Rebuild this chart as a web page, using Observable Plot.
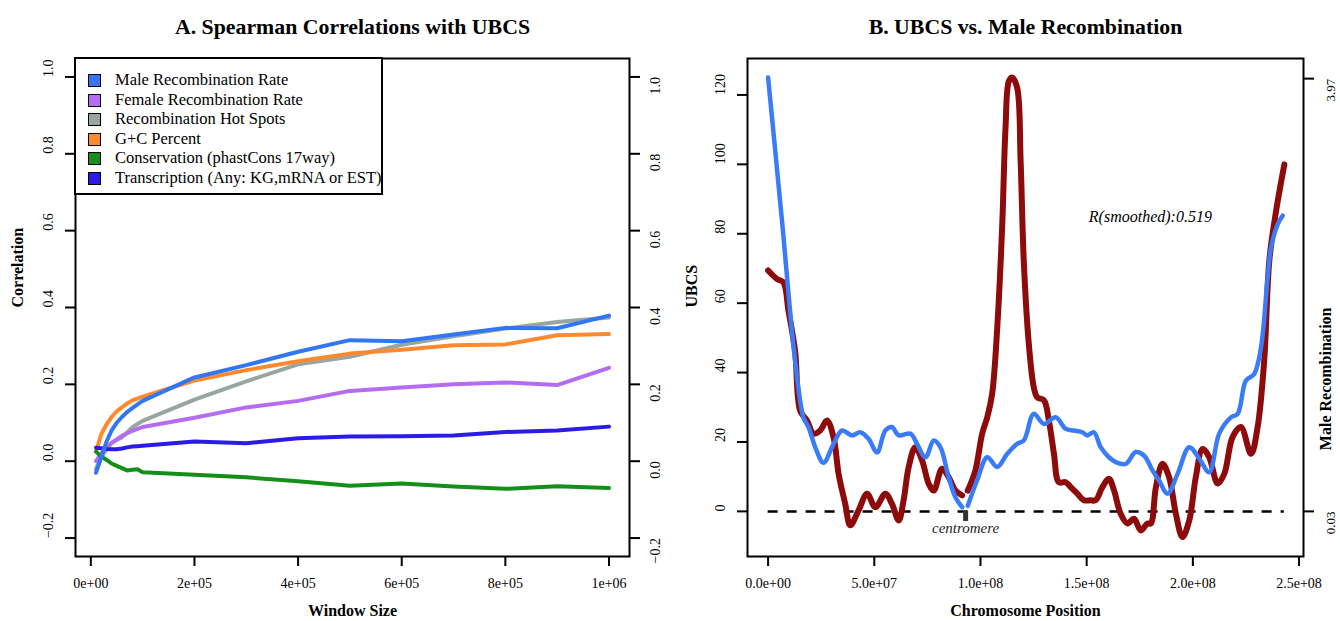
<!DOCTYPE html>
<html>
<head>
<meta charset="utf-8">
<script src="https://cdn.jsdelivr.net/npm/d3@7"></script>
<script src="https://cdn.jsdelivr.net/npm/@observablehq/plot@0.6"></script>
<style>
  body { margin: 0; background: white; }
  #wrap { position: relative; width: 1340px; height: 621px; overflow: hidden; font-family: "Liberation Serif", serif; }
  .panel { position: absolute; top: 0; }
  #legend { position: absolute; left: 75px; top: 58px; width: 305px; height: 134px; border: 2px solid black; background: white; box-sizing: content-box; margin-left: -1px; margin-top: -1px; }
  .lrow { position: absolute; left: 0; height: 20px; font-size: 16.5px; line-height: 20px; white-space: nowrap; }
  .sw { position: absolute; left: 12px; top: 4px; width: 11px; height: 11px; border: 1px solid black; }
  .lt { position: absolute; left: 39px; top: 0; }
</style>
</head>
<body>
<div id="wrap"></div>
<script>
// ---------- Panel A data ----------
const windowSize = [1e4, 2e4, 3e4, 4e4, 5e4, 6e4, 7e4, 8e4, 9e4, 1e5, 2e5, 3e5, 4e5, 5e5, 6e5, 7e5, 8e5, 9e5, 1e6];
const maleRate   = [-0.030, 0.010, 0.050, 0.080, 0.100, 0.115, 0.128, 0.138, 0.148, 0.157, 0.218, 0.250, 0.285, 0.315, 0.312, 0.330, 0.347, 0.346, 0.379];
const femaleRate = [0.000, 0.020, 0.035, 0.047, 0.057, 0.066, 0.073, 0.079, 0.084, 0.089, 0.113, 0.140, 0.157, 0.183, 0.192, 0.200, 0.205, 0.198, 0.243];
const hotSpots   = [-0.020, 0.010, 0.030, 0.048, 0.055, 0.062, 0.075, 0.088, 0.097, 0.105, 0.160, 0.208, 0.252, 0.272, 0.303, 0.325, 0.345, 0.362, 0.374];
const gcPercent  = [0.025, 0.070, 0.095, 0.115, 0.130, 0.140, 0.150, 0.158, 0.163, 0.168, 0.210, 0.237, 0.260, 0.280, 0.290, 0.302, 0.304, 0.328, 0.331];
const conservation = [0.025, 0.012, 0.004, -0.006, -0.012, -0.018, -0.024, -0.022, -0.021, -0.029, -0.035, -0.042, -0.052, -0.064, -0.058, -0.066, -0.072, -0.065, -0.070];
const transcription = [0.035, 0.034, 0.032, 0.031, 0.031, 0.033, 0.036, 0.038, 0.039, 0.040, 0.051, 0.047, 0.060, 0.064, 0.065, 0.067, 0.076, 0.080, 0.090];

const seriesNames  = ["Male Recombination Rate", "Female Recombination Rate", "Recombination Hot Spots", "G+C Percent", "Conservation (phastCons 17way)", "Transcription (Any: KG,mRNA or EST)"];
const seriesColors = ["#3276f5", "#b46cf2", "#98a6a2", "#ff8a2e", "#14901a", "#2b1be6"];
const seriesValues = [maleRate, femaleRate, hotSpots, gcPercent, conservation, transcription];
const drawOrder = [2, 3, 1, 4, 5, 0];

const xTicksA = [0, 2e5, 4e5, 6e5, 8e5, 1e6];
const xTickLabelsA = ["0e+00", "2e+05", "4e+05", "6e+05", "8e+05", "1e+06"];
const yTicksA = [-0.2, 0, 0.2, 0.4, 0.6, 0.8, 1.0];
const yTickLabelsA = ["\u22120.2", "0.0", "0.2", "0.4", "0.6", "0.8", "1.0"];

// ---------- Panel B data (positions in Mb) ----------
const ubcsPos = [0, 6.5, 12.7, 16.7, 19.0, 22.5, 26.1, 30.5, 34.8, 39.5, 43.4, 47.3, 51.3, 55.2, 58.3, 61.5, 67.0, 70.1, 74.1, 78.0, 81.1, 85.0, 88.2, 91.4, 92.7, 94.0, 98.4, 103.2, 107.9, 112.6, 117.3, 120.4, 125.1, 129.9, 135.4, 140.1, 144.0, 148.0, 150.3, 153.4, 156.6, 160.5, 163.7, 168.4, 173.1, 177.0, 181.0, 184.1, 188.1, 192.8, 198.3, 203.0, 207.7, 212.4, 217.9, 221.1, 225.0, 228.9, 232.1, 235.2, 236.8, 240.0, 242.3];
const ubcsVal = [125, 84, 43.5, 27, 24.3, 18, 14, 19, 23.3, 21.9, 22.8, 20.9, 17, 23.3, 24.3, 21.9, 22.4, 19.5, 15.6, 20.4, 18.5, 9.9, 4.1, 1.2, NaN, 1.6, 8.9, 15.6, 12.8, 16.6, 19.5, 20.4, 28.1, 25.2, 27.1, 23.8, 23.3, 22.8, 21.9, 22.8, 18.5, 15.6, 14.2, 13.7, 17.1, 16.1, 11.8, 8.9, 5.1, 10.8, 18.5, 15.2, 11.3, 22.4, 27.1, 28.1, 37.7, 39.6, 47.3, 67.4, 76, 82.8, 85.2];

const recPos = [0, 4.1, 7.2, 9.6, 12.7, 15.1, 18.3, 21.4, 24.5, 27.7, 30.8, 33.2, 36.3, 38.7, 42.6, 46.6, 50.5, 55.2, 58.3, 61.5, 63.8, 66.2, 69.3, 72.5, 75.6, 78.0, 81.9, 85.0, 88.2, 91.4, 92.7, 94.0, 97.6, 100.8, 103.2, 105.5, 107.9, 110.2, 111.8, 113.4, 115.0, 117.3, 118.9, 120.4, 122.8, 125.1, 126.7, 129.9, 132.2, 134.6, 136.9, 140.1, 142.5, 145.6, 148.7, 151.9, 154.2, 157.4, 160.5, 162.9, 166.0, 169.2, 172.3, 175.5, 178.6, 180.2, 182.6, 185.7, 188.8, 192.0, 195.1, 198.3, 201.4, 204.6, 207.7, 211.7, 214.8, 218.7, 222.6, 227.4, 230.5, 233.6, 236.0, 239.2, 243.1];
const recVal = [69.4, 67, 66, 57.8, 46.3, 29, 26.2, 22.4, 23.3, 26.2, 21.4, 10.8, 2.2, -4, 0.3, 5.1, 1.2, 5.1, 2.2, -2.6, 3.2, 12.8, 18.5, 14.7, 8, 6, 12.3, 9.9, 6, 4.6, NaN, 6, 11.8, 22.4, 27.1, 33.9, 53, 81.8, 110.6, 124, 125, 122, 101, 72, 48, 35.8, 32.9, 32, 26.2, 16.6, 8.4, 8.4, 7, 5.1, 3.2, 3.2, 3.2, 7, 9.4, 6, -0.7, -3.5, -2.1, -5.5, -3.5, -3.5, 7, 13.7, 9.9, -0.7, -7.4, -2.6, 9.9, 18, 15.6, 8, 10.8, 21.4, 24.3, 16.6, 24.3, 43.5, 72.2, 86.6, 100];

const centromerePos = 93;
const correlationText = "R(smoothed):0.519";
const correlationAt = [180, 85];

const xTicksB = [0, 50, 100, 150, 200, 250];
const xTickLabelsB = ["0.0e+00", "5.0e+07", "1.0e+08", "1.5e+08", "2.0e+08", "2.5e+08"];
const yTicksB = [0, 20, 40, 60, 80, 100, 120];
const yTickLabelsB = ["0", "20", "40", "60", "80", "100", "120"];
const recTicks = [0, 124.7];
const recTickLabels = ["0.03", "3.97"];

const FONT = "Liberation Serif";
const tickFS = 14;

// ---------- Panel A ----------
const rowsA = [];
drawOrder.forEach(s => windowSize.forEach((w, i) => rowsA.push({w, v: seriesValues[s][i], s})));

const plotA = Plot.plot({
  width: 680, height: 621,
  marginLeft: 75, marginRight: 51, marginTop: 58, marginBottom: 65,
  x: {domain: [-29600, 1039600]},
  y: {domain: [-0.248, 1.048]},
  style: {fontFamily: FONT, background: "white", color: "black"},
  marks: [
    ...drawOrder.map(s => Plot.line(rowsA.filter(r => r.s === s), {x: "w", y: "v", stroke: seriesColors[s], strokeWidth: 4, strokeLinejoin: "round"})),
    Plot.frame({stroke: "black", strokeWidth: 2}),
    Plot.axisX({ticks: xTicksA, tickSize: 10, tickFormat: () => "", strokeWidth: 2, label: null}),
    Plot.axisY({anchor: "left", ticks: yTicksA, tickSize: 10, tickFormat: () => "", strokeWidth: 2, label: null}),
    Plot.axisY({anchor: "right", ticks: yTicksA, tickSize: 10, tickFormat: () => "", strokeWidth: 2, label: null}),
    Plot.text(xTicksA, {x: d => d, text: (d, i) => xTickLabelsA[i], frameAnchor: "bottom", dy: 31, fontSize: tickFS}),
    Plot.text(yTicksA, {y: d => d, text: (d, i) => yTickLabelsA[i], frameAnchor: "left", dx: -27, rotate: -90, fontSize: tickFS}),
    Plot.text(yTicksA, {y: d => d, text: (d, i) => yTickLabelsA[i], frameAnchor: "right", dx: 26, rotate: -90, fontSize: tickFS}),
    Plot.text(["Correlation"], {frameAnchor: "left", dx: -58, rotate: -90, fontSize: 16, fontWeight: "bold"}),
    Plot.text(["Window Size"], {frameAnchor: "bottom", dy: 59, fontSize: 16, fontWeight: "bold"}),
    Plot.text(["A. Spearman Correlations with UBCS"], {frameAnchor: "top", dy: -40, fontSize: 21.8, fontWeight: "bold"})
  ]
});

// ---------- Panel B ----------
const ubcsRows = ubcsPos.map((p, i) => ({p, v: ubcsVal[i]}));
const recRows = recPos.map((p, i) => ({p, v: recVal[i]}));
const dashExtent = d3.extent(recPos);

const plotB = Plot.plot({
  width: 660, height: 621,
  marginLeft: 67, marginRight: 37, marginTop: 58, marginBottom: 65,
  x: {domain: [-9.7, 252.1]},
  y: {domain: [-13, 130.5]},
  style: {fontFamily: FONT, background: "white", color: "black"},
  marks: [
    Plot.ruleY([0], {x1: dashExtent[0], x2: dashExtent[1], stroke: "black", strokeWidth: 2.5, strokeDasharray: "10,9"}),
    Plot.line(recRows, {x: "p", y: "v", stroke: "#8d0b0b", strokeWidth: 6, curve: "catmull-rom", strokeLinejoin: "round"}),
    Plot.line(ubcsRows, {x: "p", y: "v", stroke: "#3a7cf8", strokeWidth: 4.5, curve: "catmull-rom", strokeLinejoin: "round"}),
    Plot.ruleX([centromerePos], {y1: 0, y2: -2.9, stroke: "#333", strokeWidth: 5}),
    Plot.text(["centromere"], {x: centromerePos, y: 0, dy: 17, fontSize: 15, fontStyle: "italic", fill: "#222", letterSpacing: "0.6px"}),
    Plot.text([correlationText], {x: correlationAt[0], y: correlationAt[1], fontSize: 16, fontStyle: "italic"}),
    Plot.frame({stroke: "black", strokeWidth: 2}),
    Plot.axisX({ticks: xTicksB, tickSize: 10, tickFormat: () => "", strokeWidth: 2, label: null}),
    Plot.axisY({anchor: "left", ticks: yTicksB, tickSize: 10, tickFormat: () => "", strokeWidth: 2, label: null}),
    Plot.axisY({anchor: "right", ticks: recTicks, tickSize: 10, tickFormat: () => "", strokeWidth: 2, label: null}),
    Plot.text(xTicksB, {x: d => d, text: (d, i) => xTickLabelsB[i], frameAnchor: "bottom", dy: 31, fontSize: tickFS}),
    Plot.text(yTicksB, {y: d => d, text: (d, i) => yTickLabelsB[i], frameAnchor: "left", dx: -27, rotate: -90, fontSize: tickFS}),
    Plot.text(recTicks, {y: d => d, text: (d, i) => recTickLabels[i], frameAnchor: "right", dx: 27, rotate: -90, fontSize: 13}),
    Plot.text(["UBCS"], {frameAnchor: "left", dx: -56, rotate: -90, fontSize: 16, fontWeight: "bold"}),
    Plot.text(["Male Recombination"], {frameAnchor: "right", dx: 22, rotate: -90, fontSize: 16, fontWeight: "bold"}),
    Plot.text(["Chromosome Position"], {frameAnchor: "bottom", dy: 59, fontSize: 16, fontWeight: "bold"}),
    Plot.text(["B. UBCS vs. Male Recombination"], {frameAnchor: "top", dy: -40, fontSize: 21.8, fontWeight: "bold"})
  ]
});

const wrap = document.getElementById("wrap");
const pa = document.createElement("div"); pa.className = "panel"; pa.style.left = "0px"; pa.appendChild(plotA);
const pb = document.createElement("div"); pb.className = "panel"; pb.style.left = "680px"; pb.appendChild(plotB);
wrap.appendChild(pa); wrap.appendChild(pb);

// Legend (inside panel A, top-left)
const lg = document.createElement("div"); lg.id = "legend";
seriesNames.forEach((name, i) => {
  const row = document.createElement("div"); row.className = "lrow";
  row.style.top = (11 + i * 19.5) + "px";
  const sw = document.createElement("div"); sw.className = "sw"; sw.style.background = seriesColors[i];
  const t = document.createElement("div"); t.className = "lt"; t.textContent = name;
  row.appendChild(sw); row.appendChild(t); lg.appendChild(row);
});
wrap.appendChild(lg);
</script>
</body>
</html>
